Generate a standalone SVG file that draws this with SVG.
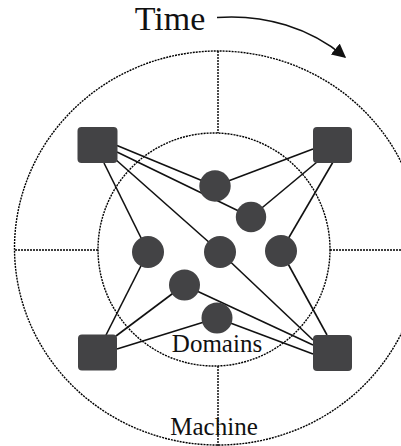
<svg xmlns="http://www.w3.org/2000/svg" width="401" height="446" viewBox="0 0 401 446">
<style>
.dash{fill:none;stroke:#000;stroke-width:1.4;stroke-dasharray:2 1}
.edge{stroke:#111;stroke-width:1.6;fill:none}
.sq{fill:#434345}
.dot{fill:#434345}
.lbl{font-family:"Liberation Serif","DejaVu Serif",serif;fill:#111}
</style>
<defs>
<marker id="ah" viewBox="0 0 10 10" refX="9" refY="5" markerWidth="14" markerHeight="14" markerUnits="userSpaceOnUse" orient="auto">
<path d="M0,0 L10,5 L0,10 z" fill="#111"/>
</marker>
</defs>
<rect width="401" height="446" fill="#fff"/>
<g id="machine">
<ellipse class="dash" cx="218" cy="248" rx="203.5" ry="197"/>
<line class="dash" x1="218" y1="51" x2="218" y2="133"/>
<line class="dash" x1="218" y1="366" x2="218" y2="446"/>
<line class="dash" x1="15" y1="250" x2="98" y2="250"/>
<line class="dash" x1="330" y1="250" x2="401" y2="250"/>
</g>
<g id="domains">
<ellipse class="dash" cx="214" cy="249.5" rx="116" ry="116.5"/>
</g>
<g id="connectors">
<line class="edge" x1="117" y1="145.5" x2="215" y2="186"/>
<line class="edge" x1="117" y1="152" x2="251" y2="217"/>
<line class="edge" x1="115" y1="159" x2="220" y2="252"/>
<line class="edge" x1="104" y1="163" x2="148" y2="252"/>
<line class="edge" x1="313" y1="149" x2="215" y2="186"/>
<line class="edge" x1="317" y1="162" x2="251" y2="217"/>
<line class="edge" x1="333" y1="162" x2="281" y2="251"/>
<line class="edge" x1="106" y1="335" x2="148" y2="252"/>
<line class="edge" x1="116" y1="336" x2="184" y2="285"/>
<line class="edge" x1="117" y1="349" x2="217" y2="318"/>
<line class="edge" x1="327" y1="335" x2="281" y2="251"/>
<line class="edge" x1="313" y1="340" x2="220" y2="252"/>
<line class="edge" x1="313" y1="345" x2="184" y2="285"/>
<line class="edge" x1="313" y1="354" x2="217" y2="318"/>
<path class="edge" d="M217,17.5 C265,14 310,28 345,57" marker-end="url(#ah)"/>
</g>
<g id="sq-tl"><rect class="sq" x="77.5" y="127" width="40" height="36" rx="4"/></g>
<g id="sq-tr"><rect class="sq" x="313" y="127" width="39" height="36" rx="4"/></g>
<g id="sq-bl"><rect class="sq" x="78" y="334.5" width="39" height="36" rx="4"/></g>
<g id="sq-br"><rect class="sq" x="313" y="335" width="39" height="36" rx="4"/></g>
<g id="c1"><circle class="dot" cx="215" cy="186" r="15.7"/></g>
<g id="c2"><circle class="dot" cx="251" cy="217" r="15.2"/></g>
<g id="c3"><circle class="dot" cx="148" cy="252" r="16"/></g>
<g id="c4"><circle class="dot" cx="220" cy="252" r="16"/></g>
<g id="c5"><circle class="dot" cx="281" cy="251" r="16"/></g>
<g id="c6"><circle class="dot" cx="184.5" cy="285" r="15.5"/></g>
<g id="c7"><circle class="dot" cx="217" cy="318" r="15.5"/></g>
<g id="labels">
<text class="lbl" x="170" y="30" font-size="34" text-anchor="middle">Time</text>
<text class="lbl" x="217" y="352" font-size="25" text-anchor="middle">Domains</text>
<text class="lbl" x="214" y="435" font-size="25" text-anchor="middle">Machine</text>
</g>
</svg>
